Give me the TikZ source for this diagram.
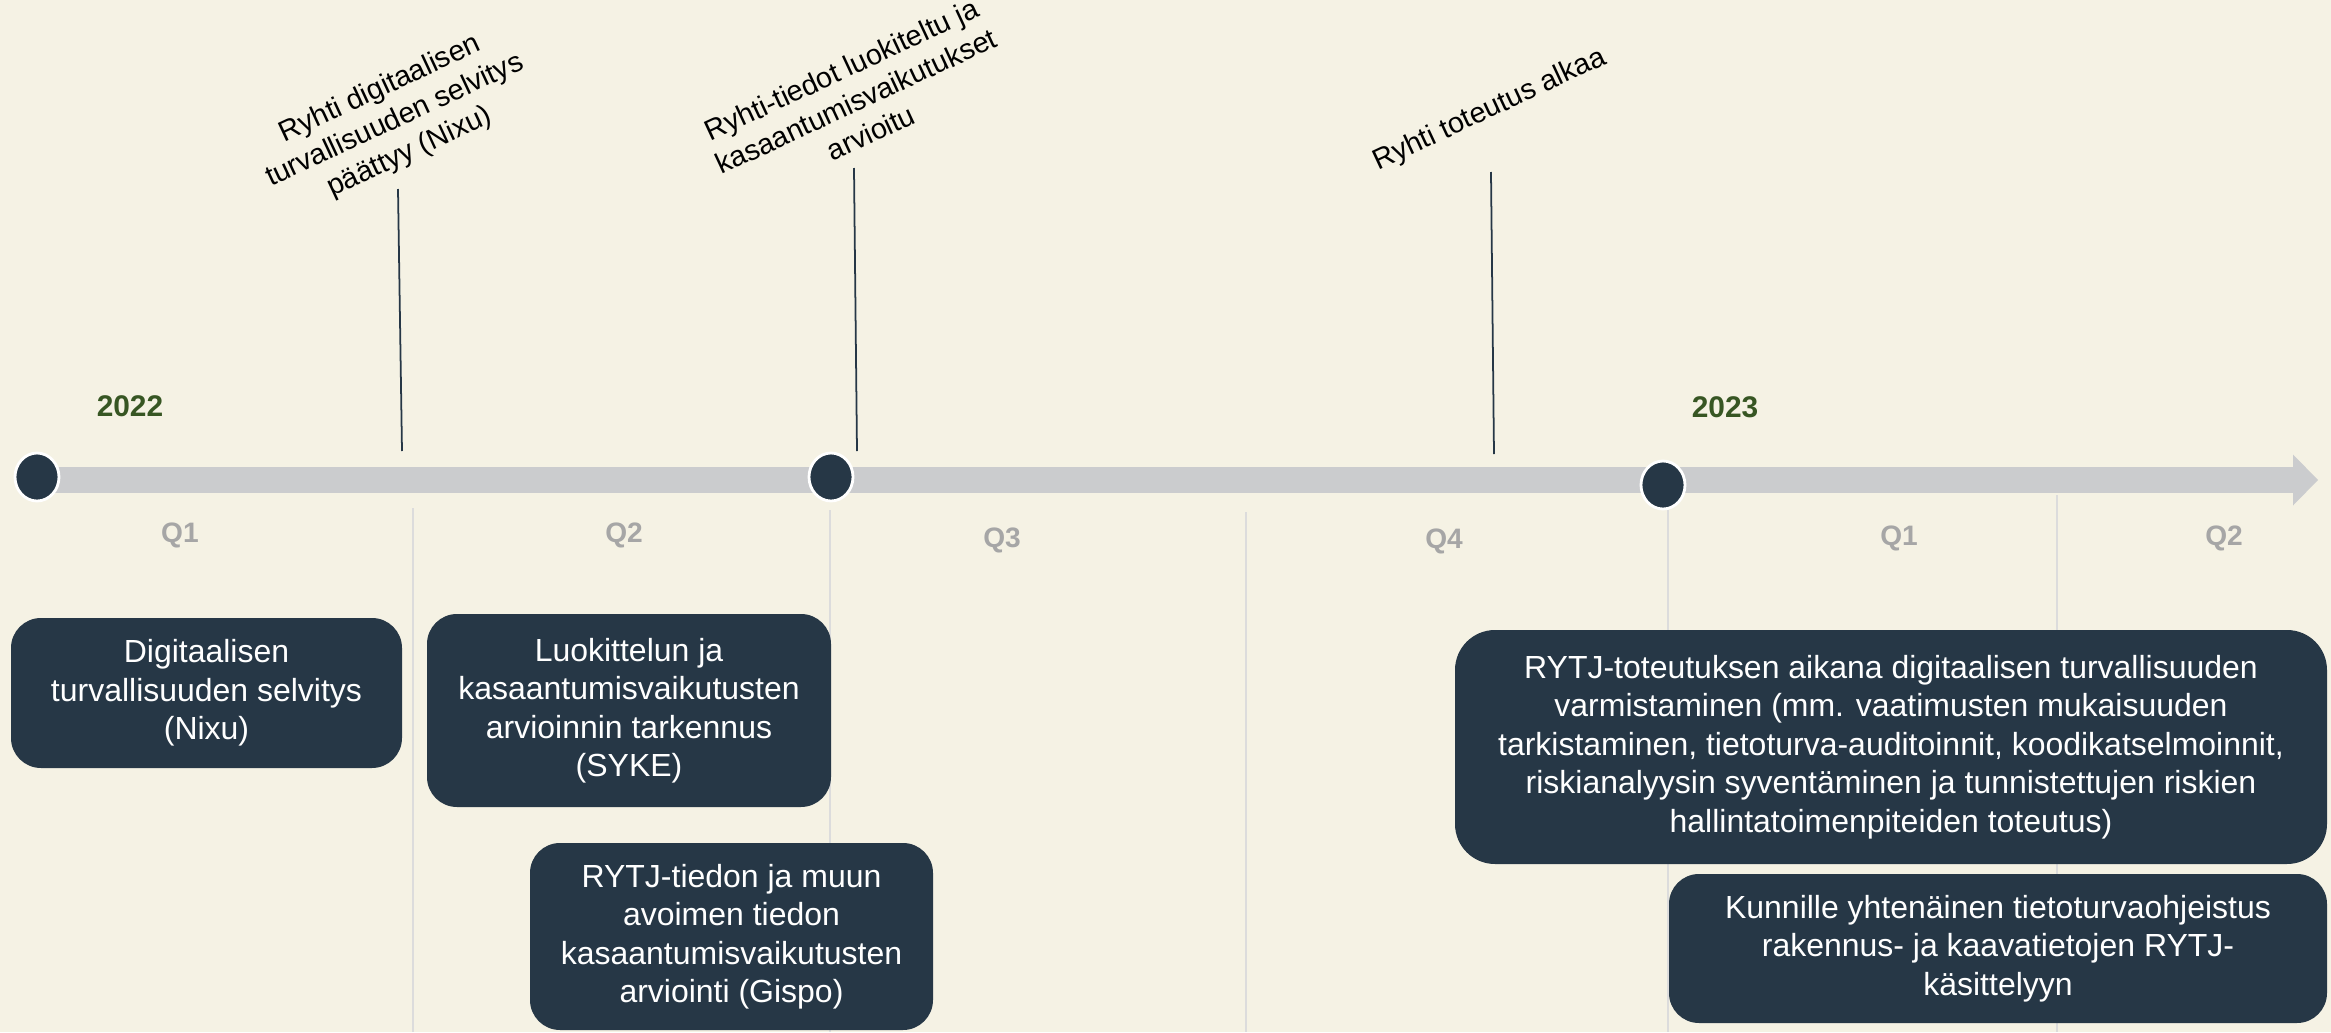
\documentclass[tikz,border=0pt]{standalone}
\usepackage{fontspec}
\setmainfont{Liberation Sans}
\usetikzlibrary{arrows.meta,shapes.geometric}

\definecolor{tausta}{HTML}{F5F2E4}
\definecolor{tumma}{HTML}{263746}
\definecolor{palkki}{HTML}{CBCCCE}
\definecolor{vihrea}{HTML}{375623}
\definecolor{harmaa}{HTML}{A6A6A6}
\definecolor{viiva}{HTML}{DCDCDC}

\begin{document}
\begin{tikzpicture}[
        tehtava/.style={fill=tumma, text=white, rounded corners=0.3cm, align=center, inner sep=0pt,
            font=\fontsize{9.1}{10.95}\selectfont},
        vuosi/.style={text=vihrea, font=\fontsize{8.5}{10}\selectfont\bfseries},
        neljannes/.style={text=harmaa, font=\fontsize{8}{10}\selectfont\bfseries},
        pallo/.style={ellipse, fill=tumma, draw=white, line width=0.8pt,
            minimum width=0.44cm, minimum height=0.48cm, inner sep=0pt},
        merkki/.style={rotate=25, align=center, inner sep=1pt, font=\fontsize{8.2}{9.9}\selectfont},
        raja/.style={draw=viiva, line width=0.4pt},
        tikku/.style={draw=tumma, line width=0.5pt}
    ]
        \useasboundingbox (0,0) rectangle (23.31,10.32);
        \fill[tausta] (0,0) rectangle (23.31,10.32);

        % neljännesten rajat
        \draw[raja] (4.13,5.24) -- (4.13,0);
        \draw[raja] (8.30,5.22) -- (8.30,0);
        \draw[raja] (12.46,5.20) -- (12.46,0);
        \draw[raja] (16.68,5.22) -- (16.68,0);
        \draw[raja] (20.57,5.37) -- (20.57,0);

        % aikajana
        \coordinate (alku) at (0.37,5.52);
        \coordinate (karki) at (23.18,5.52);
        \draw[palkki, line width=0.26cm, -{Triangle[length=0.25cm, width=0.51cm, line width=0pt]}] (alku) -- (karki);
        \node[pallo] (m1) at (0.37,5.55) {};
        \node[pallo] (m2) at (8.31,5.55) {};
        \node[pallo] (m3) at (16.63,5.47) {};

        % vuodet ja neljännekset
        \node[vuosi] (v22) at (1.30,6.26) {2022};
        \node[vuosi] (v23) at (17.25,6.25) {2023};
        \node[neljannes] (q1) at (1.80,4.97) {Q1};
        \node[neljannes] (q2) at (6.24,4.97) {Q2};
        \node[neljannes] (q3) at (10.02,4.92) {Q3};
        \node[neljannes] (q4) at (14.44,4.91) {Q4};
        \node[neljannes] (q5) at (18.99,4.94) {Q1};
        \node[neljannes] (q6) at (22.24,4.94) {Q2};

        % virstanpylväät
        \node[merkki] (r1) at (3.95,9.11) {Ryhti digitaalisen\\turvallisuuden selvitys\\päättyy (Nixu)};
        \node[merkki] (r2) at (8.56,9.31) {Ryhti-tiedot luokiteltu ja\\kasaantumisvaikutukset\\arvioitu};
        \node[merkki] (r3) at (14.90,9.22) {Ryhti toteutus alkaa};
        \coordinate (r1a) at (3.98,8.43);
        \coordinate (r1b) at (4.02,5.81);
        \coordinate (r2a) at (8.54,8.64);
        \coordinate (r2b) at (8.57,5.81);
        \coordinate (r3a) at (14.91,8.60);
        \coordinate (r3b) at (14.94,5.78);
        \draw[tikku] (r1a) -- (r1b);
        \draw[tikku] (r2a) -- (r2b);
        \draw[tikku] (r3a) -- (r3b);

        % tehtävät
        \node[tehtava, minimum width=3.91cm, minimum height=1.50cm] (t1) at (2.065,3.39)
            {Digitaalisen\\turvallisuuden selvitys\\(Nixu)};
        \node[tehtava, minimum width=4.04cm, minimum height=1.93cm] (t2) at (6.29,3.215)
            {Luokittelun ja\\kasaantumisvaikutusten\\arvioinnin tarkennus\\(SYKE)};
        \node[tehtava, minimum width=4.03cm, minimum height=1.87cm] (t3) at (7.315,0.955)
            {RYTJ-tiedon ja muun\\avoimen tiedon\\kasaantumisvaikutusten\\arviointi (Gispo)};
        \node[tehtava, rounded corners=0.4cm, minimum width=8.72cm, minimum height=2.34cm] (t4) at (18.91,2.85)
            {RYTJ-toteutuksen aikana digitaalisen turvallisuuden\\varmistaminen (mm. vaatimusten mukaisuuden\\tarkistaminen, tietoturva-auditoinnit, koodikatselmoinnit,\\riskianalyysin syventäminen ja tunnistettujen riskien\\hallintatoimenpiteiden toteutus)};
        \node[tehtava, minimum width=6.58cm, minimum height=1.49cm] (t5) at (19.98,0.835)
            {Kunnille yhtenäinen tietoturvaohjeistus\\rakennus- ja kaavatietojen RYTJ-\\käsittelyyn};
    \end{tikzpicture}
\end{document}
